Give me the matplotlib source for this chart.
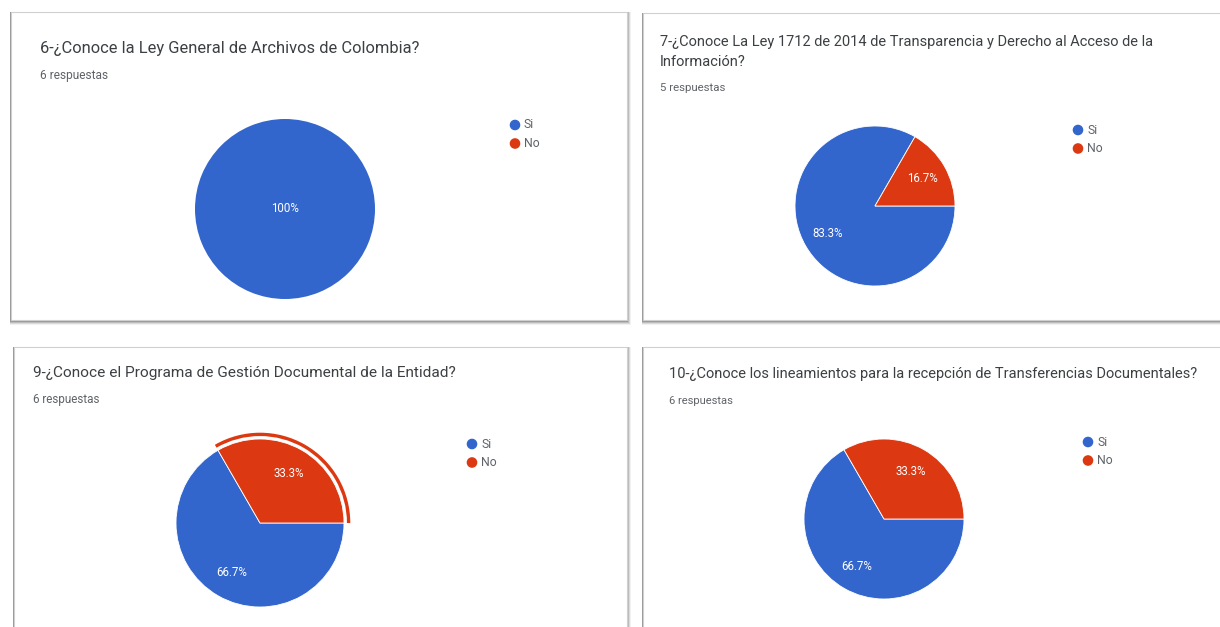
import matplotlib.pyplot as plt
from matplotlib.patches import Rectangle, Wedge, Circle

plt.rcParams['font.family'] = ['Roboto', 'DejaVu Sans']

W, H = 1220, 627

# survey answers per question
titles = [
    "6-¿Conoce la Ley General de Archivos de Colombia?",
    "7-¿Conoce La Ley 1712 de 2014 de Transparencia y Derecho al Acceso de la\nInformación?",
    "9-¿Conoce el Programa de Gestión Documental de la Entidad?",
    "10-¿Conoce los lineamientos para la recepción de Transferencias Documentales?",
]
subtitles = ["6 respuestas", "5 respuestas", "6 respuestas", "6 respuestas"]
categories = ["Si", "No"]
si_counts = [6, 5, 4, 4]
no_counts = [0, 1, 2, 2]
colors = ["#3366cc", "#dc3912"]

# card layout in pixels (x0, y0, x1, y1), pie centre/radius, legend, title
cards = [(11, 12, 627, 320), (643, 13, 1230, 320),
         (14, 347, 627, 640), (643, 347, 1230, 640)]
pies = [(285, 209, 90), (875, 206, 80), (260, 523, 84), (884, 519, 80)]
legend_pos = [(515, 125), (1078, 130), (472, 444), (1088, 442)]
title_pos = [(40, 48), (660, 52), (33, 373), (669, 374)]
sub_pos = [(40, 76), (660, 88), (33, 400), (669, 401)]
title_sizes = [11.9, 10.55, 11.05, 10.5]
sub_sizes = [8.6, 8.2, 8.4, 8.0]
highlight = [False, False, True, False]

fig = plt.figure(figsize=(W / 100, H / 100), dpi=100)
bg = fig.add_axes([0, 0, 1, 1])
bg.set_xlim(0, W)
bg.set_ylim(H, 0)
bg.axis('off')

for i, (x0, y0, x1, y1) in enumerate(cards):
    # soft drop shadow around each card
    for k, a in [(5, 0.08), (4, 0.14), (3, 0.22), (2, 0.32)]:
        bg.add_patch(Rectangle((x0 - 1.5, y0), x1 - x0 + k, y1 - y0 + k,
                               facecolor='#555555', alpha=a, edgecolor='none'))
    bg.add_patch(Rectangle((x0, y0), x1 - x0, y1 - y0, facecolor='white',
                           edgecolor='#d0d0d0', linewidth=0.8))

    tx, ty = title_pos[i]
    bg.text(tx, ty, titles[i], fontsize=title_sizes[i], color='#3c4043',
            va='center', ha='left', linespacing=1.5)
    sx, sy = sub_pos[i]
    bg.text(sx, sy, subtitles[i], fontsize=sub_sizes[i], color='#5f6368',
            va='center', ha='left')

    lx, ly = legend_pos[i]
    for j, cat in enumerate(categories):
        bg.add_patch(Circle((lx, ly + j * 18.5), 4.6, color=colors[j]))
        bg.text(lx + 9, ly + j * 18.5, cat, fontsize=8.8, color='#5f6368',
                va='center', ha='left')

for i, (cx, cy, r) in enumerate(pies):
    ax = fig.add_axes([(cx - r) / W, 1 - (cy + r) / H, 2 * r / W, 2 * r / H])
    vals = [si_counts[i], no_counts[i]]
    total = sum(vals)
    single = min(vals) == 0
    wedges, _, autotexts = ax.pie(
        vals, colors=colors, startangle=0, counterclock=False, radius=1,
        autopct=lambda p: f"{p:.0f}%" if p >= 99.95 else (f"{p:.1f}%" if p > 0 else ""),
        pctdistance=0 if single else 0.68,
        wedgeprops=dict(edgecolor='white', linewidth=0.6 if not single else 0),
        textprops=dict(color='white', fontsize=8.3))
    if highlight[i]:
        # hovered slice gets an outer ring
        end = 360 * no_counts[i] / total
        ax.add_patch(Wedge((0, 0), 1.075, 0, end, width=0.04,
                           facecolor=colors[1], edgecolor='none', clip_on=False))
    ax.set_xlim(-1, 1)
    ax.set_ylim(-1, 1)
    ax.set_aspect('equal')
    ax.axis('off')

fig.savefig('out.png', dpi=100)
